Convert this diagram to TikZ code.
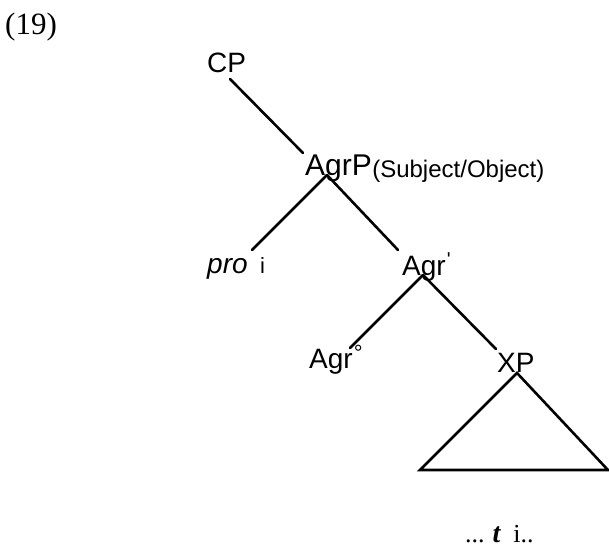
\documentclass[tikz,border=0pt]{standalone}
\usepackage{fontspec}
\setmainfont{Liberation Sans}
\newfontfamily\serifface{Liberation Serif}
\begin{document}
\begin{tikzpicture}[x=1pt,y=-1pt,
  lbl/.style={inner sep=0pt,anchor=base west,font=\fontsize{28}{30}\selectfont},
  branch/.style={line width=2.6pt,line cap=round}]
\useasboundingbox (0,0) rectangle (609,547);
% example number
\node[lbl,font=\serifface\fontsize{31}{33}\selectfont] (num) at (5,34) {(19)};
% labels
\node[lbl] (cp) at (207,72) {CP};
\node[lbl,font=\fontsize{30}{32}\selectfont] (agrp) at (305,175) {AgrP};
\node[lbl,font=\fontsize{24}{26}\selectfont] (subj) at (agrp.base east) [yshift=-2pt] {(Subject/Object)};
\node[lbl,font=\itshape\fontsize{28}{30}\selectfont] (pro) at (207,273) {pro};
\node[lbl,font=\fontsize{22}{24}\selectfont] (proi) at (260,273) {i};
\node[lbl] (agrbar) at (402,275) {Agr\raisebox{0.3em}{\fontsize{20}{20}\selectfont\kern1pt\textquotesingle}};
\node[lbl] (agr0) at (309,368) {Agr\raisebox{0.28em}{\fontsize{22}{22}\selectfont\kern1pt°}};
\node[lbl] (xp) at (497,372) {XP};
\node[lbl,font=\serifface\fontsize{26}{28}\selectfont] (trace) at (465,542)
  {...\hspace{8pt}{\fontsize{28}{28}\selectfont\bfseries\itshape t}\hspace{13pt}i..};
% junction points
\coordinate (cpB) at (230,79);
\coordinate (agrpT) at (303,153);
\coordinate (agrpB) at (327,175);
\coordinate (proT) at (252,250);
\coordinate (agrbarT) at (398,250);
\coordinate (agrbarB) at (423,275);
\coordinate (agr0T) at (350,348);
\coordinate (xpT) at (496,349);
\coordinate (triA) at (517,373);
\coordinate (triL) at (420,470);
\coordinate (triR) at (608,470);
% branches
\draw[branch] (cpB) -- (agrpT);
\draw[branch] (agrpB) -- (proT);
\draw[branch] (agrpB) -- (agrbarT);
\draw[branch] (agrbarB) -- (agr0T);
\draw[branch] (agrbarB) -- (xpT);
\draw[branch,line join=miter] (triA) -- (triL) -- (triR) -- cycle;
\end{tikzpicture}
\end{document}
